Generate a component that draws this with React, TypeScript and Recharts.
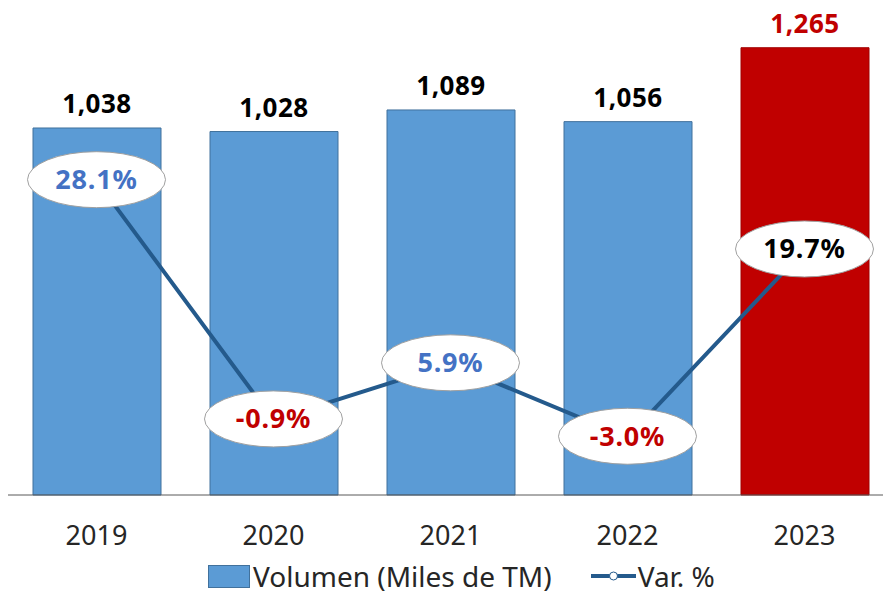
import { ComposedChart, Bar, Line, XAxis, YAxis, LabelList, Legend, Cell } from 'recharts'

const years = ['2019', '2020', '2021', '2022', '2023']
const volumen = [1038, 1028, 1089, 1056, 1265]
const variacion = [28.1, -0.9, 5.9, -3.0, 19.7]

const data = years.map((year, i) => ({
  year,
  volumen: volumen[i],
  var: variacion[i],
}))

const font = '"Noto Sans", "Open Sans", sans-serif'
const blue = '#5b9bd5'
const red = '#c00000'
const lineColor = '#245a8c'

const pctColor = (v: number, i: number) => {
  if (i === years.length - 1) return '#000000'
  return v < 0 ? red : '#4472c4'
}

const EllipseLabel = (props: any) => {
  const { x, y, value, index } = props
  return (
    <g>
      <ellipse cx={x} cy={y - 1} rx={69} ry={28} fill="#ffffff" stroke="#a0a0a0" strokeWidth={1} />
      <text
        x={x}
        y={y}
        dy={1}
        textAnchor="middle"
        dominantBaseline="middle"
        fontFamily={font}
        fontWeight={700}
        fontSize={27}
        letterSpacing={0.8}
        fill={pctColor(value, index)}
      >
        {value.toFixed(1)}%
      </text>
    </g>
  )
}

const BarLabel = (props: any) => {
  const { x, y, width, value, index } = props
  return (
    <text
      x={x + width / 2}
      y={y - 15}
      textAnchor="middle"
      fontFamily={font}
      fontWeight={700}
      fontSize={26}
      letterSpacing={0.5}
      fill={index === years.length - 1 ? red : '#000000'}
    >
      {value.toLocaleString('en-US')}
    </text>
  )
}

const YearTick = (props: any) => {
  const { x, payload } = props
  return (
    <text x={x} y={545} textAnchor="middle" fontFamily={font} fontSize={27} fill="#262626">
      {payload.value}
    </text>
  )
}

const LegendContent = () => (
  <div
    style={{
      display: 'flex',
      justifyContent: 'flex-start',
      alignItems: 'center',
      fontFamily: font,
      fontSize: 28,
      lineHeight: '28px',
      color: '#262626',
      marginTop: 7,
      marginLeft: 200,
      width: 670,
      whiteSpace: 'nowrap',
    }}
  >
    <span style={{ width: 42, height: 23, background: blue, border: '1px solid #41719c', boxSizing: 'border-box', marginRight: 3 }} />
    <span>Volumen (Miles de TM)</span>
    <svg width={45} height={22} style={{ marginLeft: 39, marginRight: 2 }}>
      <line x1={0} y1={11} x2={45} y2={11} stroke={lineColor} strokeWidth={4} />
      <circle cx={22.5} cy={11} r={4} fill="#ffffff" stroke={lineColor} strokeWidth={1} />
    </svg>
    <span>Var. %</span>
  </div>
)

export default function App() {
  return (
    <div style={{ position: 'absolute', left: 0, top: 0, width: 883, height: 596, overflow: 'hidden', background: '#fff' }}>
      <ComposedChart
        width={900}
        height={596}
        data={data}
        margin={{ top: 0, right: 7, left: 8, bottom: 0 }}
      >
        <XAxis
          dataKey="year"
          axisLine={{ stroke: '#595959', strokeWidth: 1 }}
          tickLine={false}
          height={60}
          tick={<YearTick />}
        />
        <YAxis yAxisId="vol" domain={[0, 1400]} hide />
        <YAxis yAxisId="pct" domain={[-10, 50]} hide />
        <Legend verticalAlign="bottom" height={41} content={<LegendContent />} />
        <Bar yAxisId="vol" dataKey="volumen" barSize={128} isAnimationActive={false} strokeWidth={1}>
          {data.map((d, i) => (
            <Cell key={d.year} fill={i === years.length - 1 ? red : blue} stroke={i === years.length - 1 ? '#a00000' : '#41719c'} />
          ))}
          <LabelList dataKey="volumen" content={<BarLabel />} />
        </Bar>
        <Line
          yAxisId="pct"
          dataKey="var"
          stroke={lineColor}
          strokeWidth={4}
          dot={false}
          isAnimationActive={false}
        >
          <LabelList dataKey="var" content={<EllipseLabel />} />
        </Line>
      </ComposedChart>
    </div>
  )
}
